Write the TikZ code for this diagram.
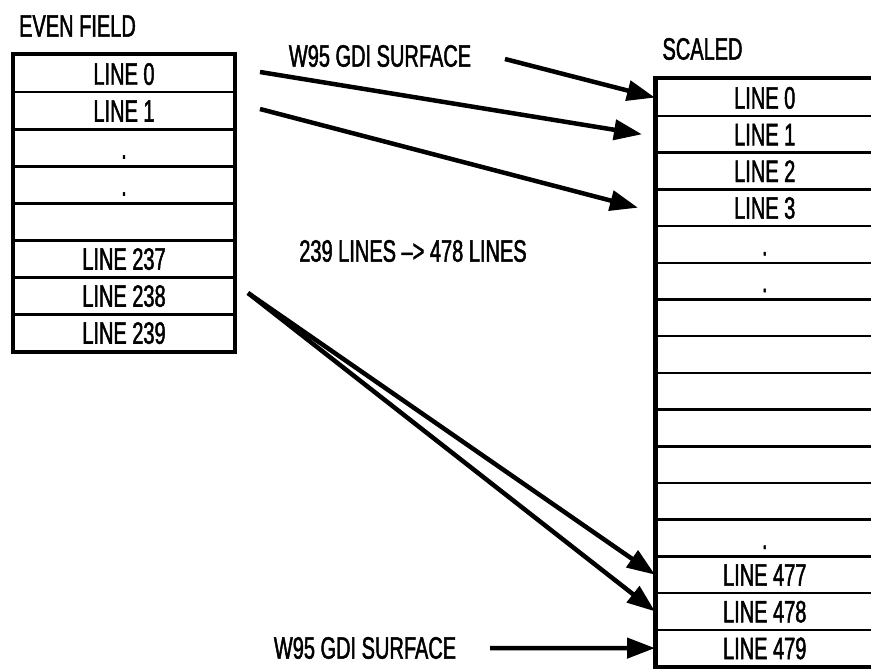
\documentclass[tikz,border=0pt]{standalone}
\usepackage{fontspec}
\setmainfont[FakeStretch=0.645,FakeBold=1.5]{Liberation Sans}
\usetikzlibrary{arrows.meta}
\begin{document}
\begin{tikzpicture}[x=1pt,y=-1pt,
  lbl/.style={font=\fontsize{31}{33}\selectfont},
  txt/.style={lbl, inner sep=0pt},
  lrow/.style={draw, line width=2.5pt, minimum width=220.5pt, minimum height=37pt,
    inner sep=0pt, anchor=north west, lbl,
    text height=22pt, text depth=0pt},
  rrow/.style={lrow, minimum width=217pt, minimum height=36.7pt},
  outer/.style={line width=3.5pt},
  arr/.style={line width=4.5pt, -{Triangle[length=28pt,width=20pt]}}
]
\useasboundingbox (0,0) rectangle (871,669);
% left box
\foreach \i/\t in {0/LINE 0,1/LINE 1,2/.,3/.,4/,5/LINE 237,6/LINE 238,7/LINE 239}
  \node[lrow] (L\i) at (12.5,{54+37*\i}) {\t};
\draw[outer] (L0.north west) rectangle (L7.south east);
% right box
\foreach \i/\t in {0/LINE 0,1/LINE 1,2/LINE 2,3/LINE 3,4/.,5/.,6/,7/,8/,9/,10/,11/,12/.,13/LINE 477,14/LINE 478,15/LINE 479}
  \node[rrow] (R\i) at (655,{78+36.7*\i}) {\t};
\draw[outer] (R0.north west) rectangle (R15.south east);
% labels
\node[txt] (ef) at (77.5,26) {EVEN FIELD};
\node[txt] (sc) at (702.5,49) {SCALED};
\node[txt] (w1) at (380,56) {W95 GDI SURFACE};
\node[txt] (mid) at (413,251) {239 LINES --{}> 478 LINES};
\node[txt] (w2) at (365,648) {W95 GDI SURFACE};
% arrow start points
\coordinate (s1) at (505,59);
\coordinate (s2) at (260,72);
\coordinate (s3) at (260,109);
\coordinate (s4) at (248,293);
\coordinate (s6) at (490,648);
% arrows
\draw[arr] (s1) -- (R0.west);
\draw[arr] (s2) -- ([xshift=-13pt]R1.west);
\draw[arr] (s3) -- ([xshift=-17pt]R3.west);
\draw[arr] (s4) -- (R13.west);
\draw[arr] (s4) -- (R14.west);
\draw[arr] (s6) -- (R15.west);
\end{tikzpicture}
\end{document}
